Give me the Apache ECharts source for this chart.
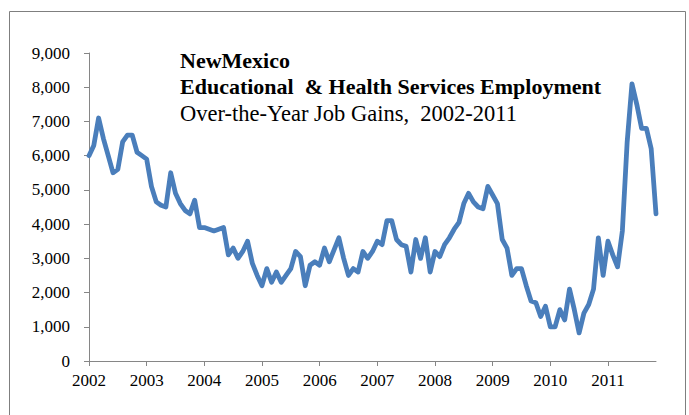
<!DOCTYPE html>
<html>
<head>
<meta charset="utf-8">
<script src="https://cdn.jsdelivr.net/npm/echarts@6/dist/echarts.min.js"></script>
<style>
html,body{margin:0;padding:0;background:#fff;}
#chart{width:689px;height:415px;}
</style>
</head>
<body>
<div id="chart"></div>
<script>
// Tick labels (years) and monthly values, Jan 2002 - Nov 2011
var years = ["2002","2003","2004","2005","2006","2007","2008","2009","2010","2011"];
var v2002 = [6000,6300,7100,6500,6000,5500,5600,6400,6600,6600,6100,6000];
var v2003 = [5900,5100,4650,4550,4500,5500,4900,4600,4400,4300,4700,3900];
var v2004 = [3900,3850,3800,3850,3900,3100,3300,3000,3200,3500,2850,2500];
var v2005 = [2200,2700,2300,2600,2300,2500,2700,3200,3050,2200,2800,2900];
var v2006 = [2800,3300,2900,3250,3600,3000,2500,2700,2600,3200,3000,3200];
var v2007 = [3500,3400,4100,4100,3550,3400,3350,2600,3550,3000,3600,2600];
var v2008 = [3200,3050,3400,3600,3850,4050,4600,4900,4650,4500,4450,5100];
var v2009 = [4850,4600,3550,3300,2500,2700,2700,2200,1750,1700,1300,1600];
var v2010 = [1000,1000,1500,1200,2100,1500,820,1400,1650,2100,3600,2500];
var v2011 = [3500,3100,2750,3800,6400,8100,7500,6800,6800,6200,4300];
var yTicks = [0,1000,2000,3000,4000,5000,6000,7000,8000,9000];
var titleLines = ["NewMexico","Educational  & Health Services Employment","Over-the-Year Job Gains,  2002-2011"];

var values = [].concat(v2002,v2003,v2004,v2005,v2006,v2007,v2008,v2009,v2010,v2011);
var months = values.map(function(_, i){ return years[0]*1 + Math.floor(i/12) + "-" + (i%12+1); });

var chart = echarts.init(document.getElementById('chart'), null, {renderer:'svg'});
var serif = '"Liberation Serif","Times New Roman",serif';
var axisGray = '#868686';
chart.setOption({
  animation:false,
  backgroundColor:'#fff',
  grid:{left:89, right:33, top:53, bottom:54, containLabel:false},
  xAxis:{
    type:'category', data:months, boundaryGap:false,
    axisLine:{lineStyle:{color:axisGray,width:1}},
    axisTick:{length:5, lineStyle:{color:axisGray}, interval:function(i){return i%12===0;}},
    axisLabel:{interval:function(i){return i%12===0;}, formatter:function(v){return v.split('-')[0];},
      fontFamily:serif, fontSize:17, color:'#000', margin:11},
    splitLine:{show:false}
  },
  yAxis:{
    type:'value', min:yTicks[0], max:yTicks[yTicks.length-1], interval:1000,
    axisLine:{show:true, lineStyle:{color:axisGray,width:1}},
    axisTick:{show:true, length:5, lineStyle:{color:axisGray}},
    axisLabel:{fontFamily:serif, fontSize:17, color:'#000', margin:19,
      formatter:function(v){return v.toLocaleString('en-US');}},
    splitLine:{show:false}
  },
  series:[{
    type:'line', data:values, showSymbol:false, smooth:false,
    lineStyle:{color:'#4A7EBB', width:4.8, cap:'round', join:'round'}
  }],
  graphic:[
    {type:'rect', left:7, top:9, shape:{width:676, height:420}, style:{fill:'none', stroke:'#7f7f7f', lineWidth:1}, silent:true},
    {type:'text', left:180, top:49, style:{text:titleLines[0], font:'bold 22px '+serif, fill:'#000'}},
    {type:'text', left:180, top:75.5, style:{text:titleLines[1], font:'bold 22px '+serif, fill:'#000'}},
    {type:'text', left:180, top:102, style:{text:titleLines[2], font:'22.5px '+serif, fill:'#000'}}
  ]
});
</script>
</body>
</html>
